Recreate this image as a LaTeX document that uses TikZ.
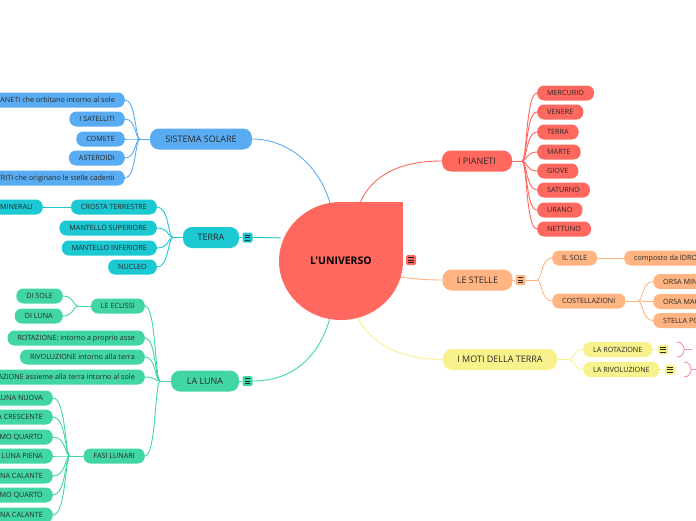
\documentclass[tikz,border=0pt]{standalone}
\usepackage{fontspec}
\setmainfont{Open Sans}
\newfontfamily\straightfont{Open Sans}[Ligatures=TeXOff]
\usetikzlibrary{backgrounds}
\definecolor{cBlue}{RGB}{90,172,242}
\definecolor{cRed}{RGB}{255,104,94}
\definecolor{cOrange}{RGB}{255,180,130}
\definecolor{cYellow}{RGB}{248,242,140}
\definecolor{cCyan}{RGB}{28,200,210}
\definecolor{cGreen}{RGB}{66,214,164}
\definecolor{cPink}{RGB}{244,140,180}
\definecolor{cText}{RGB}{40,40,40}
\tikzset{
 mainbox/.style={rounded corners=9pt, inner xsep=0pt, inner ysep=0pt, minimum height=21pt, text=cText, font=\fontsize{9}{10}\selectfont, text height=6.6pt, text depth=0pt},
 subbox/.style={rounded corners=7pt, inner xsep=10pt, inner ysep=0pt, minimum height=15pt, text=cText, font=\fontsize{7.2}{8}\selectfont, text height=5.3pt, text depth=0pt},
 link/.style={line width=0.9pt},
 menuicon/.style={rounded corners=1.5pt, minimum width=10pt, minimum height=10pt, inner sep=0pt,
   path picture={\foreach \d in {-2.4,0,2.4}{\draw[cText, line width=0.7pt] ([xshift=-2.6pt,yshift=\d pt]path picture bounding box.center) -- ([xshift=2.6pt,yshift=\d pt]path picture bounding box.center);}}}
}
\begin{document}
\begin{tikzpicture}[x=1pt,y=-1pt]
\useasboundingbox (0,0) rectangle (696,520);
\clip (0,0) rectangle (696,520);

% central shape
\fill[cRed] (341,261) ellipse [x radius=62, y radius=59];
\fill[cRed] (341,202) rectangle (403,261);
\node[font=\straightfont\bfseries\fontsize{10.5}{12}\selectfont, text=black] (univ) at (341,261) {L'UNIVERSO};
\node[menuicon, fill=cRed] (univicon) at (411,260) {};
\coordinate (cs1) at (330,203);
\coordinate (cs2) at (360,203);
\coordinate (cs3) at (281,238);
\coordinate (cs4) at (400,277);
\coordinate (cs5) at (330,318);
\coordinate (cs6) at (358,318);

% SISTEMA SOLARE
\node[mainbox, fill=cBlue, minimum width=102pt] (ss) at (201,139) {SISTEMA SOLARE};
\node[subbox, fill=cBlue, anchor=east] (ss1) at (125,100) {PIANETI che orbitano intorno al sole};
\node[subbox, fill=cBlue, anchor=east] (ss2) at (125,119) {I SATELLITI};
\node[subbox, fill=cBlue, anchor=east] (ss3) at (125,139) {COMETE};
\node[subbox, fill=cBlue, anchor=east] (ss4) at (125,158) {ASTEROIDI};
\node[subbox, fill=cBlue, anchor=east] (ss5) at (125,178) {DETRITI che originano le stelle cadenti};
\coordinate (jss) at (140,139);

% TERRA
\node[mainbox, fill=cCyan, minimum width=56pt] (terra) at (211,237.5) {TERRA};
\node[menuicon, fill=cCyan] (terraicon) at (247.5,237.5) {};
\node[subbox, fill=cCyan, anchor=east] (t1) at (157,207) {CROSTA TERRESTRE};
\node[subbox, fill=cCyan, anchor=east] (t2) at (157,228) {MANTELLO SUPERIORE};
\node[subbox, fill=cCyan, anchor=east] (t3) at (157,248) {MANTELLO INFERIORE};
\node[subbox, fill=cCyan, anchor=east] (t4) at (157,267) {NUCLEO};
\node[subbox, fill=cCyan, anchor=east] (t1a) at (43,207) {MINERALI};
\coordinate (jt) at (173,237.5);

% LA LUNA
\node[mainbox, fill=cGreen, minimum width=68pt] (luna) at (205,381) {LA LUNA};
\node[menuicon, fill=cGreen] (lunaicon) at (247.5,381) {};
\node[subbox, fill=cGreen, anchor=east] (l1) at (145,306) {LE ECLISSI};
\node[subbox, fill=cGreen, anchor=east] (l2) at (145,338) {ROTAZIONE: intorno a proprio asse};
\node[subbox, fill=cGreen, anchor=east] (l3) at (145,357) {RIVOLUZIONE intorno alla terra};
\node[subbox, fill=cGreen, anchor=east] (l4) at (145,377) {TRASLAZIONE assieme alla terra intorno al sole};
\node[subbox, fill=cGreen, anchor=east] (l5) at (145,456) {FASI LUNARI};
\node[subbox, fill=cGreen, anchor=east] (e1) at (63,296) {DI SOLE};
\node[subbox, fill=cGreen, anchor=east] (e2) at (63,316) {DI LUNA};
\node[subbox, fill=cGreen, anchor=east] (f1) at (53,398) {LUNA NUOVA};
\node[subbox, fill=cGreen, anchor=east] (f2) at (53,417) {LUNA CRESCENTE};
\node[subbox, fill=cGreen, anchor=east] (f3) at (53,437) {PRIMO QUARTO};
\node[subbox, fill=cGreen, anchor=east] (f4) at (53,456) {LUNA PIENA};
\node[subbox, fill=cGreen, anchor=east] (f5) at (53,476) {LUNA CALANTE};
\node[subbox, fill=cGreen, anchor=east] (f6) at (53,495) {ULTIMO QUARTO};
\node[subbox, fill=cGreen, anchor=east] (f7) at (53,515) {LUNA CALANTE};
\coordinate (jl) at (160,381);
\coordinate (je) at (78,306);
\coordinate (jf) at (70,456);

% I PIANETI
\node[mainbox, fill=cRed, minimum width=70pt] (pianeti) at (477,161) {I PIANETI};
\node[subbox, fill=cRed, anchor=west] (p1) at (537,93) {MERCURIO};
\node[subbox, fill=cRed, anchor=west] (p2) at (537,112) {VENERE};
\node[subbox, fill=cRed, anchor=west] (p3) at (537,132) {TERRA};
\node[subbox, fill=cRed, anchor=west] (p4) at (537,152) {MARTE};
\node[subbox, fill=cRed, anchor=west] (p5) at (537,171) {GIOVE};
\node[subbox, fill=cRed, anchor=west] (p6) at (537,190) {SATURNO};
\node[subbox, fill=cRed, anchor=west] (p7) at (537,210) {URANO};
\node[subbox, fill=cRed, anchor=west] (p8) at (537,229) {NETTUNO};
\coordinate (jp) at (522,161);

% LE STELLE
\node[mainbox, fill=cOrange, minimum width=70pt] (stelle) at (477.5,280) {LE STELLE};
\node[menuicon, fill=cOrange] (stelleicon) at (520.5,280) {};
\node[subbox, fill=cOrange, anchor=west] (s1) at (552,258) {IL SOLE};
\node[subbox, fill=cOrange, anchor=west] (s2) at (552,301) {COSTELLAZIONI};
\node[subbox, fill=cOrange, anchor=west] (s1a) at (624,258) {composto da IDROGENO e ELIO};
\node[subbox, fill=cOrange, anchor=west] (c1) at (653,281.5) {ORSA MINORE};
\node[subbox, fill=cOrange, anchor=west] (c2) at (653,301.5) {ORSA MAGGIORE};
\node[subbox, fill=cOrange, anchor=west] (c3) at (653,320.5) {STELLA POLARE};
\coordinate (jst) at (537,280);
\coordinate (jc) at (638,301);

% I MOTI DELLA TERRA
\node[mainbox, fill=cYellow, minimum width=114pt] (moti) at (500,359.5) {I MOTI DELLA TERRA};
\node[subbox, fill=cYellow, anchor=west] (m1) at (583,349.5) {LA ROTAZIONE};
\node[subbox, fill=cYellow, anchor=west] (m2) at (583,369.5) {LA RIVOLUZIONE};
\node[menuicon, fill=cYellow] (m1icon) at (663,349.5) {};
\node[menuicon, fill=cYellow] (m2icon) at (670,369.5) {};
\coordinate (jm) at (570,359.5);
\coordinate (k1) at (684,349.5);
\coordinate (k1e) at (692,349.5);
\coordinate (k2) at (691,369.5);
\coordinate (k2e) at (699,369.5);

% pink brackets
\draw[cPink, link] (677,342) .. controls (682,342) and (684,346) .. (k1) .. controls (684,353) and (682,357) .. (677,357);
\draw[cPink, link] (k1) -- (k1e);
\draw[cPink, link] (684,362) .. controls (689,362) and (691,366) .. (k2) .. controls (691,373) and (689,377) .. (684,377);
\draw[cPink, link] (k2) -- (k2e);

\begin{pgfonlayer}{background}
% center links
\draw[cBlue, link] (cs1) .. controls (318,162) and (285,139) .. (ss.east);
\draw[cRed, link] (cs2) .. controls (372,175) and (400,161) .. (pianeti.west);
\draw[cCyan, link] (cs3) .. controls (270,237.5) and (262,237.5) .. (terraicon.east);
\draw[cOrange, link] (cs4) .. controls (415,279) and (428,280) .. (stelle.west);
\draw[cGreen, link] (cs5) .. controls (318,360) and (290,381) .. (lunaicon.east);
\draw[cYellow, link] (cs6) .. controls (375,350) and (410,359.5) .. (moti.west);
\draw[cCyan, link] (terra.east) -- (terraicon.west);
\draw[cGreen, link] (luna.east) -- (lunaicon.west);
\draw[cOrange, link] (stelle.east) -- (stelleicon.west);
\draw[cYellow, link] (m1.east) -- (m1icon.west);
\draw[cYellow, link] (m2.east) -- (m2icon.west);

% sistema solare
\draw[cBlue, link] (ss.west) -- (jss);
\foreach \n in {ss1,ss2,ss3,ss4,ss5}
  \draw[cBlue, link] (jss) .. controls +(-5,0) and +(11,0) .. (\n.east);
% terra
\draw[cCyan, link] (terra.west) -- (jt);
\foreach \n in {t1,t2,t3,t4}
  \draw[cCyan, link] (jt) .. controls +(-5,0) and +(12,0) .. (\n.east);
\draw[cCyan, link] (t1.west) -- (t1a.east);
% luna
\draw[cGreen, link] (luna.west) -- (jl);
\foreach \n in {l1,l2,l3,l4,l5}
  \draw[cGreen, link] (jl) .. controls +(-5,0) and +(11,0) .. (\n.east);
\draw[cGreen, link] (l1.west) -- (je);
\foreach \n in {e1,e2}
  \draw[cGreen, link] (je) .. controls +(-5,0) and +(11,0) .. (\n.east);
\draw[cGreen, link] (l5.west) -- (jf);
\foreach \n in {f1,f2,f3,f4,f5,f6,f7}
  \draw[cGreen, link] (jf) .. controls +(-5,0) and +(13,0) .. (\n.east);
% pianeti
\draw[cRed, link] (pianeti.east) -- (jp);
\foreach \n in {p1,p2,p3,p4,p5,p6,p7,p8}
  \draw[cRed, link] (jp) .. controls +(5,0) and +(-11,0) .. (\n.west);
% stelle
\draw[cOrange, link] (stelleicon.east) -- (jst);
\foreach \n in {s1,s2}
  \draw[cOrange, link] (jst) .. controls +(5,0) and +(-11,0) .. (\n.west);
\draw[cOrange, link] (s1.east) -- (s1a.west);
\draw[cOrange, link] (s2.east) -- (jc);
\foreach \n in {c1,c2,c3}
  \draw[cOrange, link] (jc) .. controls +(5,0) and +(-11,0) .. (\n.west);
% moti
\draw[cYellow, link] (moti.east) -- (jm);
\foreach \n in {m1,m2}
  \draw[cYellow, link] (jm) .. controls +(4,0) and +(-10,0) .. (\n.west);
\end{pgfonlayer}
\end{tikzpicture}
\end{document}
